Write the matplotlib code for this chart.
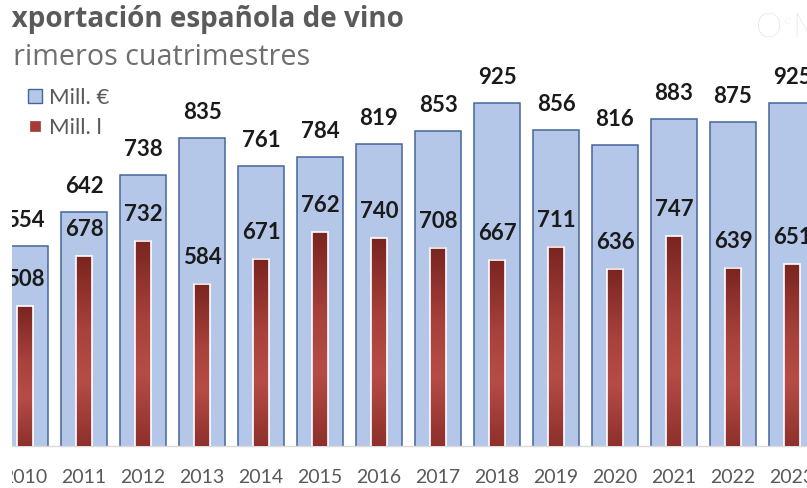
import numpy as np
import matplotlib
matplotlib.use("Agg")
import matplotlib.pyplot as plt
from matplotlib.colors import LinearSegmentedColormap
from matplotlib.transforms import Bbox, TransformedBbox
from matplotlib.lines import Line2D
from matplotlib.patches import Rectangle

# ---------------- data ----------------
years = ["2010", "2011", "2012", "2013", "2014", "2015", "2016",
         "2017", "2018", "2019", "2020", "2021", "2022", "2023"]
mill_eur = [554, 642, 738, 835, 761, 784, 819, 853, 925, 856, 816, 883, 875, 925]
mill_l = [508, 678, 732, 584, 671, 762, 740, 708, 667, 711, 636, 747, 639, 651]
title = "Exportación española de vino"
subtitle = "Primeros cuatrimestres"
legend_labels = ["Mill. €", "Mill. l"]
logo = ["O", "e", "MV"]

# ---------------- layout ----------------
W, H = 807, 488
fig = plt.figure(figsize=(W / 100, H / 100), dpi=100)
fig.patch.set_facecolor("white")

LEFT, BOT, TOP = 12, 446, 40          # pixel geometry (from top-left)
ax1 = fig.add_axes([LEFT / W, (H - BOT) / H, (W - LEFT) / W, (BOT - TOP) / H])
ax2 = ax1.twinx()

x = np.arange(len(years))
PITCH, X0 = 59.0, 25.0
xlim = ((LEFT - X0) / PITCH, (W - X0) / PITCH)

# blue (primary) scale
s1, z1 = 0.3854, 459.5
y1_lo = (z1 - BOT) / s1
y1_hi = y1_lo + (BOT - TOP) / s1
# red (secondary) scale
s2, z2 = 0.2913, 454.0
y2_lo = (z2 - BOT) / s2
y2_hi = y2_lo + (BOT - TOP) / s2

BLUE_FILL = "#b4c7e8"
BLUE_EDGE = "#46659a"
RED_MAIN = "#a23a35"

ax1.bar(x, mill_eur, width=0.78, color=BLUE_FILL, edgecolor=BLUE_EDGE,
        linewidth=1.1, zorder=2)

cmap = LinearSegmentedColormap.from_list(
    "wine", [(0.0, "#8e302b"), (0.35, "#b64c46"), (0.6, "#a9423c"), (1.0, "#7a2420")])
grad = np.linspace(0, 1, 256).reshape(-1, 1)
RW = 0.26
for xi, v in zip(x, mill_l):
    ax2.imshow(grad, extent=(xi - RW / 2, xi + RW / 2, y2_lo, v), origin="lower",
               aspect="auto", cmap=cmap, zorder=2, interpolation="bilinear")
ax2.bar(x, mill_l, width=RW, color="none", edgecolor="white", linewidth=1.2, zorder=3)

ax1.set_xlim(*xlim)
ax1.set_ylim(y1_lo, y1_hi)
ax2.set_xlim(*xlim)
ax2.set_ylim(y2_lo, y2_hi)

LABEL_FONT = dict(family="Lato", fontsize=16, fontweight="bold", color="#1a1a1a")
texts_to_clip = []
for xi, v in zip(x, mill_eur):
    t = ax1.annotate(str(v), (xi, v), xytext=(0, 19 * 0.72), textcoords="offset points",
                     ha="center", va="baseline", annotation_clip=False, **LABEL_FONT)
    texts_to_clip.append(t)
for xi, v in zip(x, mill_l):
    t = ax2.annotate(str(v), (xi, v), xytext=(0, 20 * 0.72), textcoords="offset points",
                     ha="center", va="baseline", annotation_clip=False, **LABEL_FONT)
    texts_to_clip.append(t)

ax1.set_xticks(x)
ax1.set_xticklabels(years, family="Lato", fontsize=14, color="#595959")
ax1.tick_params(axis="x", length=0, pad=16.5)
ax1.tick_params(axis="y", left=False, labelleft=False)
ax2.tick_params(axis="y", right=False, labelright=False)
for sp in ["top", "left", "right"]:
    ax1.spines[sp].set_visible(False)
for sp in ax2.spines.values():
    sp.set_visible(False)
ax1.spines["bottom"].set_color("#d9d9d9")
ax1.spines["bottom"].set_linewidth(1.0)
ax1.patch.set_visible(False)
ax2.patch.set_visible(False)

# ---------------- legend ----------------
handles = [
    Line2D([], [], marker="s", ls="none", markersize=10.5, mfc=BLUE_FILL, mec=BLUE_EDGE, mew=1.0),
    Line2D([], [], marker="s", ls="none", markersize=6.5, mfc=RED_MAIN, mec=RED_MAIN, mew=0.5),
]
leg = fig.legend(handles, legend_labels, loc="upper left",
                 bbox_to_anchor=(26 / W, 1 - 88 / H), frameon=False,
                 prop=dict(family="Lato", size=16), labelcolor="#595959",
                 handlelength=0.8, handletextpad=0.25, labelspacing=0.45,
                 borderpad=0, borderaxespad=0)

# ---------------- titles ----------------
renderer = fig.canvas.get_renderer()


def width_px(s, **kw):
    t = fig.text(0, 0, s, **kw)
    w = t.get_window_extent(renderer).width
    t.remove()
    return w


tkw = dict(family="Open Sans", fontweight="bold", color="#5a5a5a")
size_t = 20 * 393 / width_px(title[1:], fontsize=20, **tkw)
shift_t = width_px(title, fontsize=size_t, **tkw) - width_px(title[1:], fontsize=size_t, **tkw)
tt = fig.text((LEFT - shift_t) / W, 1 - 27 / H, title, fontsize=size_t, va="baseline", **tkw)

skw = dict(family="Open Sans", color="#6e6e6e")
size_s = 20 * 295 / width_px(subtitle[1:], fontsize=20, **skw)
shift_s = width_px(subtitle, fontsize=size_s, **skw) - width_px(subtitle[1:], fontsize=size_s, **skw)
st = fig.text((LEFT + 1 - shift_s) / W, 1 - 65 / H, subtitle, fontsize=size_s, va="baseline", **skw)

# logo
LOGO_C = "#cbcbcb"
lkw = dict(family="Lato", fontweight="light", color=LOGO_C, va="baseline")
wO = width_px(logo[0], fontsize=24, family="Lato", fontweight="light")
fig.text(756 / W, 1 - 37 / H, logo[0], fontsize=24, **lkw)
fig.text((756 + wO + 1) / W, 1 - 24 / H, logo[1], fontsize=10, **lkw)
fig.text((756 + wO + 10) / W, 1 - 37 / H, logo[2], fontsize=24, **lkw)

# clip to the visible frame (left strip of the picture is blank)
fig.canvas.draw()
clip_bb = TransformedBbox(Bbox([[LEFT / W, 0], [1, 1]]), fig.transFigure)
for t in texts_to_clip + [tt, st] + list(ax1.get_xticklabels()):
    t.set_clip_box(clip_bb)
    t.set_clip_on(True)
fig.add_artist(Rectangle((0, 0), LEFT / W, 1, transform=fig.transFigure,
                         facecolor="white", edgecolor="none", zorder=20))

fig.savefig("out.png", dpi=100, facecolor="white")
